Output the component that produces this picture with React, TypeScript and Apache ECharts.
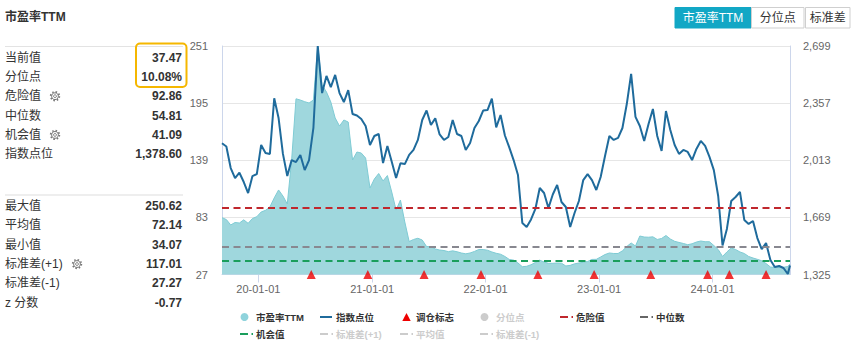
import React, { useEffect, useRef } from 'react';
import * as echarts from 'echarts';

const FONT = "'Liberation Sans', Arial, 'Noto Sans CJK SC', sans-serif";

function pad(n: number) { return n < 10 ? '0' + n : '' + n; }
// biweekly sample dates (x categories of the time axis)
const sampleDates: string[] = [];
for (let i = 0; i < 131; i++) {
  const d = new Date(Date.UTC(2019, 8, 6) + i * 14 * 86400000);
  sampleDates.push(`${d.getUTCFullYear()}-${pad(d.getUTCMonth() + 1)}-${pad(d.getUTCDate())}`);
}
sampleDates.push('2024-09-06');

const peValues = [
  82.8, 81.0, 75.7, 78.1, 77.6, 80.7, 77.3, 82.0, 83.8, 88.4,
  90.0, 93.3, 102.1, 109.9, 104.0, 96.2, 139.2, 199.0, 197.8, 196.2,
  194.9, 197.8, 250.62, 212.5, 205.7, 195.9, 180.3, 172.4, 178.3, 176.3,
  139.2, 147.0, 146.0, 141.1, 111.8, 120.6, 126.0, 118.7, 124.0, 107.9,
  90.3, 100.1, 78.6, 59.5, 61.5, 62.7, 61.0, 54.6, 54.4, 52.2,
  51.2, 50.7, 49.6, 50.4, 49.5, 48.3, 47.5, 48.3, 49.8, 51.7,
  51.7, 51.0, 49.3, 48.0, 47.1, 44.9, 42.0, 41.3, 38.5, 34.9,
  35.3, 36.8, 39.0, 41.3, 39.5, 38.2, 38.2, 38.5, 38.3, 35.6,
  36.2, 37.7, 38.5, 39.2, 40.0, 42.0, 42.1, 44.4, 46.8, 48.3,
  47.8, 47.8, 50.4, 54.6, 58.1, 55.1, 64.9, 63.9, 63.7, 64.1,
  61.5, 62.5, 65.4, 62.0, 59.7, 58.6, 57.6, 56.4, 57.3, 59.0,
  60.0, 59.3, 59.3, 55.6, 51.7, 44.9, 49.3, 53.2, 51.7, 49.3,
  47.8, 44.9, 43.4, 42.1, 40.7, 38.0, 34.6, 34.1, 34.07, 34.3,
  35.1, 37.47,
];

const indexValues = [
  2114, 2095, 1965, 1905, 1937, 1881, 1815, 1917, 1929, 2104,
  2056, 2050, 2385, 2266, 2050, 1917, 2013, 2001, 2044, 1953,
  2013, 2206, 2699, 2416, 2519, 2452, 2525, 2416, 2362, 2434,
  2290, 2281, 2260, 2218, 2104, 2158, 2170, 1995, 2098, 2003,
  1905, 1994, 1989, 2044, 2074, 2134, 2254, 2311, 2224, 2264,
  2167, 2134, 2152, 2254, 2170, 2158, 2074, 2116, 2206, 2248,
  2311, 2314, 2383, 2210, 2284, 2161, 2089, 2013, 1923, 1635,
  1611, 1656, 1719, 1845, 1815, 1725, 1806, 1863, 1761, 1731,
  1611, 1695, 1767, 1893, 1929, 1893, 1833, 1911, 2038, 2158,
  2134, 2146, 2206, 2350, 2531, 2273, 2218, 2128, 2230, 2320,
  2158, 2068, 2308, 2194, 2104, 2050, 2074, 2062, 2013, 2080,
  2128, 2098, 2032, 1953, 1797, 1500, 1599, 1767, 1791, 1821,
  1653, 1629, 1647, 1544, 1478, 1514, 1412, 1370, 1376, 1364,
  1328, 1378.6,
];

const rebalanceDates = [
  '2020-06-19', '2020-12-18', '2021-06-17', '2021-12-17', '2022-06-18',
  '2022-12-16', '2023-06-16', '2023-12-16', '2024-02-24', '2024-06-21',
];

const dangerValue = 92.86;
const medianValue = 54.81;
const chanceValue = 41.09;

const peAxisMin = 27.27;
const peAxisMax = 250.62;
const peAxisLabels = ['27', '83', '139', '195', '251'];
const idxAxisMin = 1325;
const idxAxisMax = 2699;
const idxAxisLabels = ['1,325', '1,669', '2,013', '2,357', '2,699'];

const statLabels1 = ['当前值', '分位点', '危险值', '中位数', '机会值', '指数点位'];
const statValues1 = ['37.47', '10.08%', '92.86', '54.81', '41.09', '1,378.60'];
const statLabels2 = ['最大值', '平均值', '最小值', '标准差(+1)', '标准差(-1)', 'z 分数'];
const statValues2 = ['250.62', '72.14', '34.07', '117.01', '27.27', '-0.77'];
const gearLabels = ['危险值', '机会值', '标准差(+1)'];

const buttonLabels = ['市盈率TTM', '分位点', '标准差'];

const legendItems = [
  { name: '市盈率TTM', icon: 'circle', color: '#8fd3dc', active: true, col: 0, row: 0 },
  { name: '指数点位', icon: 'line', color: '#1f6b9c', active: true, col: 1, row: 0 },
  { name: '调仓标志', icon: 'triangle', color: '#ee0000', active: true, col: 2, row: 0 },
  { name: '分位点', icon: 'circle', color: '#cccccc', active: false, col: 3, row: 0 },
  { name: '危险值', icon: 'dash', color: '#c0272d', active: true, col: 4, row: 0 },
  { name: '中位数', icon: 'dash', color: '#666666', active: true, col: 5, row: 0 },
  { name: '机会值', icon: 'dash', color: '#1a9e5c', active: true, col: 0, row: 1 },
  { name: '标准差(+1)', icon: 'dash', color: '#cccccc', active: false, col: 1, row: 1 },
  { name: '平均值', icon: 'dash', color: '#cccccc', active: false, col: 2, row: 1 },
  { name: '标准差(-1)', icon: 'dash', color: '#cccccc', active: false, col: 3, row: 1 },
];

const toTs = (s: string) => new Date(s + 'T00:00:00').getTime();

function gear(cx: number, cy: number): any[] {
  return [
    { type: 'circle', shape: { cx, cy, r: 4.3 }, style: { fill: 'transparent', stroke: '#777', lineWidth: 1.8, lineDash: [1.5, 1.88] } },
    { type: 'circle', shape: { cx, cy, r: 3.4 }, style: { fill: '#fff', stroke: '#777', lineWidth: 1 } },
    { type: 'circle', shape: { cx, cy, r: 1.4 }, style: { fill: 'transparent', stroke: '#777', lineWidth: 1 } },
  ];
}

function buildGraphic(): any[] {
  const g: any[] = [];
  g.push({ type: 'text', x: 5, y: 17, style: { text: '市盈率TTM', font: `bold 12px ${FONT}`, fill: '#333', verticalAlign: 'middle' } });
  g.push({ type: 'line', shape: { x1: 5, y1: 46.5, x2: 183, y2: 46.5 }, style: { stroke: '#e3e3e3', lineWidth: 1 } });
  g.push({ type: 'line', shape: { x1: 5, y1: 195, x2: 183, y2: 195 }, style: { stroke: '#eeeeee', lineWidth: 2 } });
  const addRows = (labels: string[], values: string[], y0: number) => {
    labels.forEach((lab, i) => {
      const y = y0 + i * 19.35;
      g.push({ type: 'text', x: 5, y, style: { text: lab, font: `12px ${FONT}`, fill: '#333', verticalAlign: 'middle' } });
      g.push({ type: 'text', x: 182, y, style: { text: values[i], font: `bold 12px ${FONT}`, fill: '#333', align: 'right', verticalAlign: 'middle' } });
      if (gearLabels.indexOf(lab) >= 0) {
        const gx = lab === '标准差(+1)' ? 77 : 55;
        gear(gx, y).forEach((e) => g.push(e));
      }
    });
  };
  addRows(statLabels1, statValues1, 57.5);
  addRows(statLabels2, statValues2, 206);
  g.push({ type: 'rect', shape: { x: 136, y: 43.5, width: 50.5, height: 43.5, r: 4 }, style: { fill: 'transparent', stroke: '#f5b700', lineWidth: 2 } });

  // buttons
  const btns = [
    { x: 675, w: 76, active: true },
    { x: 751.5, w: 52.5, active: false },
    { x: 805.5, w: 44.5, active: false },
  ];
  btns.forEach((b, i) => {
    g.push({ type: 'rect', shape: { x: b.x, y: 7.5, width: b.w, height: 20.5 }, style: { fill: b.active ? '#12a7c5' : '#fff', stroke: b.active ? '#12a7c5' : '#cfcfcf', lineWidth: 1 } });
    g.push({ type: 'text', x: b.x + b.w / 2, y: 18, style: { text: buttonLabels[i], font: `12px ${FONT}`, fill: b.active ? '#fff' : '#333', align: 'center', verticalAlign: 'middle' } });
  });

  // legend
  legendItems.forEach((it) => {
    const c = 240 + it.col * 80;
    const y = 317 + it.row * 17;
    const col = it.active ? it.color : '#cccccc';
    if (it.icon === 'circle') {
      g.push({ type: 'circle', shape: { cx: c + 4.5, cy: y, r: 4 }, style: { fill: col } });
    } else if (it.icon === 'line') {
      g.push({ type: 'line', shape: { x1: c, y1: y, x2: c + 12, y2: y }, style: { stroke: col, lineWidth: 2 } });
    } else if (it.icon === 'triangle') {
      g.push({ type: 'polygon', shape: { points: [[c + 6.5, y - 4], [c + 2.3, y + 4], [c + 10.7, y + 4]] }, style: { fill: col } });
    } else {
      g.push({ type: 'line', shape: { x1: c, y1: y, x2: c + 13, y2: y }, style: { stroke: col, lineWidth: 2, lineDash: [8, 3.5] } });
    }
    g.push({ type: 'text', x: c + 16, y, style: { text: it.name, font: `bold 9.5px ${FONT}`, fill: it.active ? '#333' : '#cccccc', verticalAlign: 'middle' } });
  });
  return g;
}

function buildOption(): any {
  const xs = sampleDates.map(toTs);
  return {
    animation: false,
    backgroundColor: '#fff',
    grid: { left: 222, right: 73, top: 46, bottom: 78.5, containLabel: false },
    xAxis: {
      type: 'time',
      min: xs[0],
      max: xs[xs.length - 1],
      axisLine: { show: true, lineStyle: { color: '#ccd6eb' } },
      axisTick: { show: true, length: 8, lineStyle: { color: '#ccd6eb' } },
      splitLine: { show: false },
      axisLabel: {
        color: '#666', fontSize: 11, margin: 9, fontFamily: FONT,
        showMinLabel: false, showMaxLabel: false,
        formatter: (v: number) => {
          const d = new Date(v);
          if (d.getMonth() === 0 && d.getDate() === 1) {
            return `${String(d.getFullYear()).slice(2)}-01-01`;
          }
          return '';
        },
      },
    },
    yAxis: [
      {
        type: 'value', min: peAxisMin, max: peAxisMax, interval: (peAxisMax - peAxisMin) / 4,
        axisLine: { show: true, lineStyle: { color: '#ccd6eb' } },
        axisTick: { show: false },
        splitLine: { show: true, lineStyle: { color: '#e6e6e6', width: 1 } },
        axisLabel: {
          color: '#666', fontSize: 11, margin: 14, fontFamily: FONT,
          formatter: (v: number) => peAxisLabels[Math.round((v - peAxisMin) / ((peAxisMax - peAxisMin) / 4))] ?? '',
        },
      },
      {
        type: 'value', position: 'right', min: idxAxisMin, max: idxAxisMax, interval: (idxAxisMax - idxAxisMin) / 4,
        axisLine: { show: true, lineStyle: { color: '#ccd6eb' } },
        axisTick: { show: false },
        splitLine: { show: false },
        axisLabel: {
          color: '#666', fontSize: 11, margin: 13, fontFamily: FONT,
          formatter: (v: number) => idxAxisLabels[Math.round((v - idxAxisMin) / ((idxAxisMax - idxAxisMin) / 4))] ?? '',
        },
      },
    ],
    series: [
      {
        name: '市盈率TTM', type: 'line', yAxisIndex: 0, z: 1,
        data: xs.map((x, i) => [x, peValues[i]]),
        showSymbol: false, symbol: 'none',
        lineStyle: { color: '#7fcbd4', width: 1 },
        areaStyle: { color: '#9fd7dd', opacity: 1 },
        markLine: {
          silent: true, symbol: 'none', label: { show: false },
          data: [
            { yAxis: dangerValue, lineStyle: { color: '#c0272d', type: [7, 4.5], width: 2 } },
            { yAxis: medianValue, lineStyle: { color: '#888890', type: [7, 4.5], width: 2 } },
            { yAxis: chanceValue, lineStyle: { color: '#1a9e5c', type: [7, 4.5], width: 2 } },
          ],
        },
      },
      {
        name: '指数点位', type: 'line', yAxisIndex: 1, z: 3,
        data: xs.map((x, i) => [x, indexValues[i]]),
        showSymbol: false, symbol: 'none',
        lineStyle: { color: '#1f6b9c', width: 2 },
      },
      {
        name: '调仓标志', type: 'scatter', yAxisIndex: 0, z: 4,
        data: rebalanceDates.map((d) => [toTs(d), peAxisMin]),
        symbol: 'triangle', symbolSize: [9, 9],
        itemStyle: { color: '#ee0000' },
        clip: false,
      },
    ],
    graphic: buildGraphic(),
  };
}

export default function App() {
  const ref = useRef<HTMLDivElement>(null);
  useEffect(() => {
    if (!ref.current) return;
    const chart = echarts.init(ref.current, undefined, { renderer: 'svg' });
    chart.setOption(buildOption());
    return () => chart.dispose();
  }, []);
  return (
    <div
      ref={ref}
      style={{ position: 'absolute', left: 0, top: 0, width: 863, height: 353, background: '#fff' }}
    />
  );
}
